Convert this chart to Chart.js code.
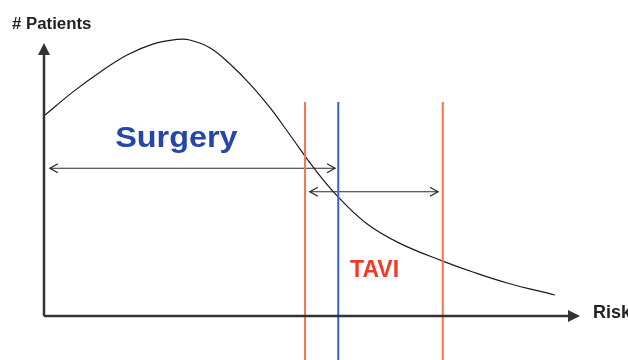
<!DOCTYPE html>
<html>
<head>
<meta charset="utf-8">
<script src="https://cdn.jsdelivr.net/npm/chart.js@4/dist/chart.umd.min.js"></script>
<style>
  html, body { margin: 0; padding: 0; background: #fff; }
  #wrap { width: 628px; height: 360px; position: relative; }
</style>
</head>
<body>
<div id="wrap"><canvas id="riskChart"></canvas></div>
<script>
// patient distribution over risk (arbitrary units, 0-100 on both axes)
const riskX = [0, 5.4, 10.5, 15.5, 20.3, 24.8, 27.2, 31.0, 34.7, 38.4, 42.2, 45.9, 50.2, 54.7, 60.3, 66.4, 74.4, 80.0, 86.4, 95.3];
const patientsY = [73.3, 82.1, 89.4, 95.6, 99.6, 101.3, 101.1, 98.2, 92.3, 85.0, 76.2, 66.3, 54.6, 44.0, 33.7, 26.6, 20.1, 16.1, 12.1, 7.7];

// vertical cut-off lines
const cutoffNames = ["surgery limit", "TAVI threshold", "TAVI limit"];
const cutoffX = [48.7, 54.9, 74.4];
const cutoffSpan = [-16.1, 78.4];

// double-headed range arrows
const rangeNames = ["Surgery", "TAVI"];
const rangeFrom = [1.1, 49.6];
const rangeTo = [54.3, 73.5];
const rangeY = [54.1, 45.5];

// text labels
const labelText = ["Surgery", "TAVI"];
const labelX = [24.7, 57.1];
const labelY = [61.9, 14.3];

const axisTitles = ["# Patients", "Risk"];

const ORANGE = "#f5744f";
const BLUE = "#2f66d4";
const AXIS = "#333333";

const cutoffColors = [ORANGE, BLUE, ORANGE];

const datasets = [];
// axes
datasets.push({ label: "x axis", data: [{x: 0, y: 0}, {x: 98, y: 0}], borderColor: AXIS, borderWidth: 2.5, pointRadius: 0, clip: false });
datasets.push({ label: "y axis", data: [{x: 0, y: 0}, {x: 0, y: 96}], borderColor: AXIS, borderWidth: 2.5, pointRadius: 0, clip: false });

cutoffX.forEach((cx, i) => {
    datasets.push({
        label: cutoffNames[i],
        data: [{x: cx, y: cutoffSpan[0]}, {x: cx, y: cutoffSpan[1]}],
        borderColor: cutoffColors[i],
        borderWidth: 2,
        pointRadius: 0,
        clip: false
    });
});

rangeNames.forEach((name, i) => {
    datasets.push({
        label: name + " range",
        data: [{x: rangeFrom[i], y: rangeY[i]}, {x: rangeTo[i], y: rangeY[i]}],
        borderColor: "#2a2a2a",
        borderWidth: 1.1,
        pointRadius: 0,
        clip: false
    });
});

datasets.push({
    label: "Patients",
    data: riskX.map((x, i) => ({x: x, y: patientsY[i]})),
    borderColor: "#1a1a1a",
    borderWidth: 1.2,
    pointRadius: 0,
    tension: 0.4,
    clip: false
});

function chevron(ctx, x, y, dir) {
    ctx.beginPath();
    ctx.moveTo(x - dir * 8, y - 4.5);
    ctx.lineTo(x, y);
    ctx.lineTo(x - dir * 8, y + 4.5);
    ctx.stroke();
}

const decorPlugin = {
    id: "decor",
    afterDatasetsDraw(chart) {
        const ctx = chart.ctx;
        const xs = chart.scales.x, ys = chart.scales.y;
        ctx.save();

        // axis arrow heads
        const ox = xs.getPixelForValue(0), oy = ys.getPixelForValue(0);
        const xTip = xs.getPixelForValue(100), yTip = ys.getPixelForValue(100);
        ctx.fillStyle = AXIS;
        ctx.beginPath();
        ctx.moveTo(xTip, oy);
        ctx.lineTo(xTip - 12, oy - 6);
        ctx.lineTo(xTip - 12, oy + 6);
        ctx.closePath();
        ctx.fill();
        ctx.beginPath();
        ctx.moveTo(ox, yTip);
        ctx.lineTo(ox - 6, yTip + 12);
        ctx.lineTo(ox + 6, yTip + 12);
        ctx.closePath();
        ctx.fill();

        // range arrow heads
        ctx.strokeStyle = "#2a2a2a";
        ctx.lineWidth = 1.3;
        rangeNames.forEach((n, i) => {
            const py = ys.getPixelForValue(rangeY[i]);
            chevron(ctx, xs.getPixelForValue(rangeFrom[i]), py, -1);
            chevron(ctx, xs.getPixelForValue(rangeTo[i]), py, 1);
        });

        // axis titles
        ctx.fillStyle = "#222";
        ctx.textBaseline = "alphabetic";
        ctx.font = "bold 16px 'Liberation Sans', Arial, sans-serif";
        ctx.textAlign = "left";
        ctx.save();
        ctx.translate(12, yTip - 14);
        ctx.scale(1.05, 1);
        ctx.fillText(axisTitles[0], 0, 0);
        ctx.restore();
        ctx.font = "bold 18px 'Liberation Sans', Arial, sans-serif";
        ctx.fillText(axisTitles[1], xTip + 13, oy + 2);

        // Surgery label (slightly wide lettering)
        ctx.fillStyle = "#2747a8";
        ctx.font = "bold 30px 'Liberation Sans', Arial, sans-serif";
        ctx.textAlign = "center";
        ctx.save();
        ctx.translate(xs.getPixelForValue(labelX[0]), ys.getPixelForValue(labelY[0]));
        ctx.scale(1.08, 1);
        ctx.fillText(labelText[0], 0, 0);
        ctx.restore();

        // TAVI label
        ctx.fillStyle = "#ef3b24";
        ctx.font = "bold 23px 'Liberation Sans', Arial, sans-serif";
        ctx.textAlign = "left";
        ctx.fillText(labelText[1], xs.getPixelForValue(labelX[1]), ys.getPixelForValue(labelY[1]));

        ctx.restore();
    }
};

new Chart(document.getElementById("riskChart"), {
    type: "line",
    data: { datasets: datasets },
    options: {
        responsive: true,
        maintainAspectRatio: false,
        animation: false,
        layout: { padding: { left: 44, right: 48, top: 43, bottom: 44 } },
        plugins: { legend: { display: false }, tooltip: { enabled: false } },
        scales: {
            x: { type: "linear", min: 0, max: 100, display: false },
            y: { type: "linear", min: 0, max: 100, display: false }
        }
    },
    plugins: [decorPlugin]
});
</script>
</body>
</html>
